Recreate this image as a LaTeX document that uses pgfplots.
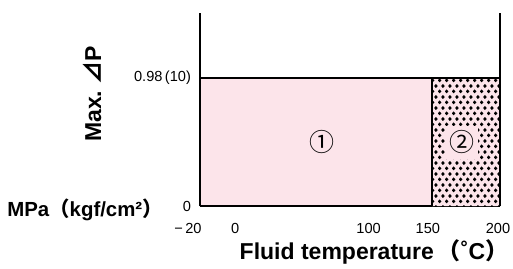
\documentclass[border=0pt]{standalone}
\usepackage{pgfplots}
\pgfplotsset{compat=1.18}
\usepackage{fontspec}
\setmainfont{Liberation Sans}
\newfontfamily\cjk{Noto Sans CJK JP}
\usetikzlibrary{patterns}
\pgfdeclarepatternformonly{mydots}{\pgfpointorigin}{\pgfqpoint{3.6pt}{5.4pt}}{\pgfqpoint{3.6pt}{5.4pt}}{%
  \pgfpathcircle{\pgfqpoint{0.9pt}{1.35pt}}{1.0pt}%
  \pgfpathcircle{\pgfqpoint{2.7pt}{4.05pt}}{1.0pt}%
  \pgfusepath{fill}}
\definecolor{pk}{RGB}{252,228,234}
\newcommand{\shl}[2]{\hspace*{#1pt}#2}
\newcommand{\shr}[2]{#2\hspace*{#1pt}}
\begin{document}
\begin{tikzpicture}
\useasboundingbox (-100pt,-31pt) rectangle (156.5pt,103pt);
\begin{axis}[at={(0,0)}, anchor=south west, scale only axis,
  width=150pt, height=96.5pt,
  xmin=-20, xmax=200, ymin=0, ymax=1.474,
  axis x line*=bottom, axis y line*=left,
  axis line style={-, line width=1.2pt},
  xtick={-20,0,100,150,200},
  xticklabels={\shr{12}{−\,20},\shl{8}{0},\shl{5}{100},\shr{4}{150},\shr{2}{200}},
  ytick={0,0.98}, yticklabels={0,0.98\,(10)},
  major tick length=0pt,
  tick label style={font=\fontsize{7.3}{8}\selectfont},
  xticklabel style={yshift=-5pt},
  yticklabel style={xshift=-1pt},
  clip=false]
\addplot[fill=pk, draw=black, line width=0.9pt] coordinates {(-20,0)(-20,0.98)(150,0.98)(150,0)(-20,0)};
\addplot[fill=pk, draw=none] coordinates {(150,0)(150,0.98)(200,0.98)(200,0)(150,0)};
\addplot[pattern=mydots, pattern color=black, draw=none] coordinates {(150,0)(150,0.98)(200,0.98)(200,0)(150,0)};
\addplot[draw=black, line width=0.9pt] coordinates {(150,0)(150,0.98)(200,0.98)};
\addplot[draw=black, line width=1.2pt] coordinates {(200,0)(200,1.474)};
\node[font=\cjk\fontsize{12.5}{12.5}\selectfont] at (axis cs:69.5,0.486) {①};
\node[fill=pk, inner sep=0pt, minimum size=16.5pt, font=\cjk\fontsize{12.5}{12.5}\selectfont] at (axis cs:172,0.486) {②};
\end{axis}
\node[font=\bfseries\fontsize{10.2}{12}\selectfont] at (-57.5pt,-2pt) {MPa{\cjk （}kgf/cm²{\cjk ）}};
\node[font=\bfseries\fontsize{11.5}{12}\selectfont, rotate=90] at (-54pt,56pt) {Max.\ {\cjk ⊿}P};
\node[font=\bfseries\fontsize{11.5}{12}\selectfont] at (87pt,-23pt) {Fluid temperature\hspace{2pt}{\cjk （}˚C{\cjk ）}};
\end{tikzpicture}
\end{document}
